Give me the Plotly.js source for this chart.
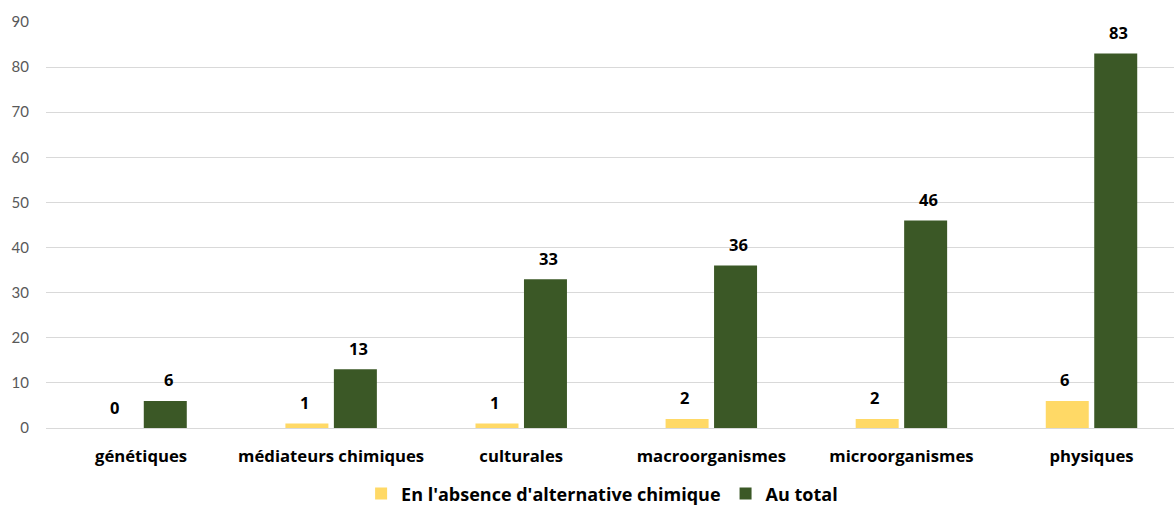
<!DOCTYPE html>
<html>
<head>
<meta charset="utf-8">
<script src="https://cdn.plot.ly/plotly-3.0.1.min.js"></script>
<style>html,body{margin:0;padding:0;background:#fff;}#chart{width:1174px;height:506px;}</style>
</head>
<body>
<div id="chart"></div>
<script>
var categories = ["génétiques", "médiateurs chimiques", "culturales", "macroorganismes", "microorganismes", "physiques"];
var seriesNames = ["En l'absence d'alternative chimique", "Au total"];
var sansAlternative = [0, 1, 1, 2, 2, 6];
var auTotal = [6, 13, 33, 36, 46, 83];
var yTicks = [0, 10, 20, 30, 40, 50, 60, 70, 80, 90];

var colors = ["#FFD966", "#3B5826"];
var font = "'Open Sans', Lato, sans-serif";

var traces = [
  {type: "bar", name: "<b>" + seriesNames[0] + "</b>", x: categories, y: sansAlternative, marker: {color: colors[0]}, hoverinfo: "x+y"},
  {type: "bar", name: "<b>" + seriesNames[1] + "</b>", x: categories, y: auTotal, marker: {color: colors[1]}, hoverinfo: "x+y"}
];

var annotations = [];
[sansAlternative, auTotal].forEach(function (vals, s) {
  vals.forEach(function (v, i) {
    annotations.push({
      x: categories[i], y: v, xref: "x", yref: "y",
      text: "<b>" + v + "</b>", showarrow: false,
      xshift: s === 0 ? -27 : 27, yshift: 21, yanchor: "middle",
      font: {family: font, size: 16.5, color: "#000"}
    });
  });
});

var layout = {
  width: 1174, height: 506,
  margin: {l: 46, r: 0, t: 22, b: 78},
  paper_bgcolor: "#fff", plot_bgcolor: "#fff",
  barmode: "group", bargap: 0.49, bargroupgap: 0.113,
  font: {family: font},
  xaxis: {
    type: "category", range: [-0.5, 5.434], fixedrange: true,
    showgrid: false, zeroline: false, showline: false, ticks: "",
    tickvals: categories, ticktext: categories.map(function (c) { return "<b>" + c + "</b>"; }),
    ticklabelstandoff: 16,
    tickfont: {family: font, size: 16.7, color: "#000"},
    automargin: false
  },
  yaxis: {
    range: [0, 90], tickvals: yTicks, ticktext: yTicks.map(String),
    showgrid: true, gridcolor: "#D9D9D9", gridwidth: 1,
    zeroline: true, zerolinecolor: "#D9D9D9", zerolinewidth: 1,
    showline: false, ticks: "", ticklabelstandoff: 16,
    tickfont: {family: "Lato, sans-serif", size: 15, color: "#595959"},
    automargin: false
  },
  showlegend: true,
  legend: {
    orientation: "h", x: 0.493, xanchor: "center",
    yref: "container", y: 0.024, yanchor: "middle",
    font: {family: font, size: 18, color: "#000"},
    itemwidth: 30, traceorder: "normal"
  },
  annotations: annotations
};

Plotly.newPlot("chart", traces, layout, {displayModeBar: false, staticPlot: true});
</script>
</body>
</html>
